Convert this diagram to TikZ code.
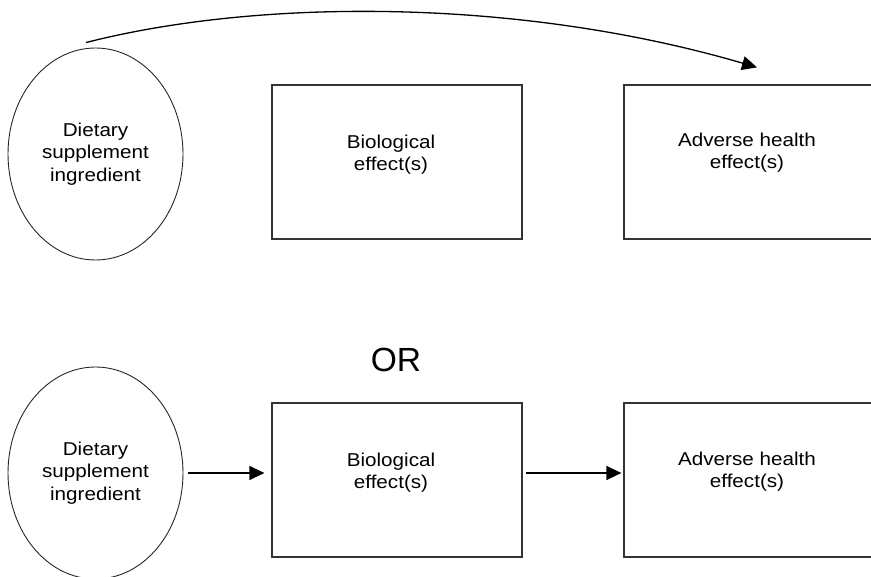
\documentclass[tikz,border=0pt]{standalone}
\usepackage{fontspec}
\setmainfont{Liberation Sans}
\newfontfamily\labelfont[FakeStretch=1.11]{Liberation Sans}
\usetikzlibrary{shapes.geometric,arrows.meta}

\begin{document}
\begin{tikzpicture}[x=1pt,y=-1pt,
  every node/.style={inner sep=0pt},
  agent/.style={draw=black!85, line width=0.9pt, ellipse,
    minimum width=175pt, minimum height=212pt, align=center,
    font=\labelfont\fontsize{18.6}{22.3}\selectfont},
  stage/.style={draw=black!80, line width=1.2pt, rectangle,
    minimum width=250pt, minimum height=154pt},
  caption/.style={align=center,
    font=\labelfont\fontsize{18.6}{22.3}\selectfont},
  link/.style={line width=1.3pt, -{Triangle[length=15pt,width=14pt]}},
]
\useasboundingbox (0,0) rectangle (871,577);

% Upper pathway: ingredient acting directly on health
\node[agent] (e1) at (95.5,154) {Dietary\\supplement\\ingredient};
\node[stage] (b1) at (397,162) {};
\node[stage] (b2) at (749,162) {};
\node[caption] (c1) at (391,155) {Biological\\effect(s)};
\node[caption] (c2) at (747,153) {Adverse health\\effect(s)};

\coordinate (s1) at ([shift={(-9.5pt,5pt)}]e1.north);
\coordinate (t1) at ([shift={(8pt,17pt)}]b2.north);
\draw[link] (s1) .. controls (260,-2) and (520,-2) .. (t1);

% Separator
\node[font=\fontsize{33.5}{40}\selectfont] (or) at (396,360) {OR};

% Lower pathway: ingredient -> biological effect -> adverse effect
\node[agent] (e2) at (95.5,473) {Dietary\\supplement\\ingredient};
\node[stage] (b3) at (397,480) {};
\node[stage] (b4) at (749,480) {};
\node[caption] (c3) at (391,473) {Biological\\effect(s)};
\node[caption] (c4) at (747,472) {Adverse health\\effect(s)};

\draw[link, shorten <=5pt, shorten >=7pt] (e2.east) -- (e2.east -| b3.west);
\draw[link, shorten <=3pt, shorten >=2pt] (b3.east |- e2.east) -- (b4.west |- e2.east);
\end{tikzpicture}
\end{document}
